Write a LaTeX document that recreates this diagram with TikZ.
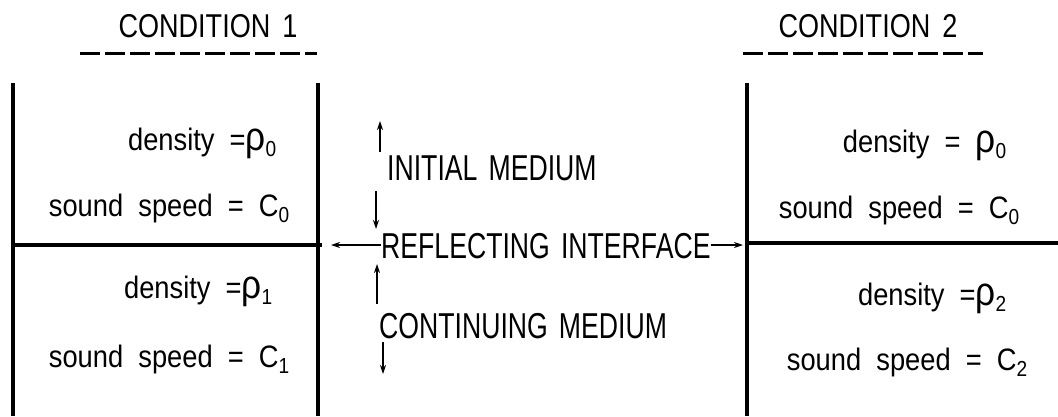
\documentclass[tikz,border=0pt]{standalone}
\usepackage{fontspec}
\setmainfont{Liberation Sans}
\newfontfamily\bodyfont[FakeStretch=0.88,WordSpace=2]{Liberation Sans}
\newfontfamily\headfont[FakeStretch=0.82,WordSpace=1.6]{Liberation Sans}
\newfontfamily\capfont[FakeStretch=0.74,WordSpace=1.5]{Liberation Sans}
\newcommand{\bigrho}{{\fontsize{40}{40}\selectfont ρ}}
\usetikzlibrary{arrows.meta}
\begin{document}
\begin{tikzpicture}[x=1pt,y=-1pt,
  wall/.style={line width=4pt},
  iface/.style={line width=3.5pt},
  uline/.style={line width=3pt, dash pattern=on 20pt off 5pt},
  body/.style={font=\bodyfont\fontsize{31}{33}\selectfont, inner sep=0pt},
  head/.style={font=\headfont\fontsize{33}{35}\selectfont, inner sep=0pt},
  midlbl/.style={font=\capfont\fontsize{36}{38}\selectfont, inner sep=0pt},
  arr/.style={line width=1.3pt, -{Stealth[length=9pt,width=6pt]}}]
\useasboundingbox (0,0) rectangle (1058,416);
% headings
\node[head, anchor=base] (h1) at (208,37) {CONDITION 1};
\node[head, anchor=base] (h2) at (868,37) {CONDITION 2};
\coordinate (u1a) at (80,53); \coordinate (u1b) at (317,53);
\coordinate (u2a) at (743,53); \coordinate (u2b) at (983,53);
\draw[uline] (u1a) -- (u1b);
\draw[uline] (u2a) -- (u2b);
% left box
\coordinate (L1t) at (13,83); \coordinate (L1b) at (13,416);
\coordinate (L2t) at (318,83); \coordinate (L2b) at (318,416);
\coordinate (Lia) at (13,245); \coordinate (Lib) at (322,245);
\draw[wall] (L1t) -- (L1b);
\draw[wall] (L2t) -- (L2b);
\draw[iface] (Lia) -- (Lib);
% right box
\coordinate (R1t) at (747,83); \coordinate (R1b) at (747,416);
\coordinate (Ria) at (745,243); \coordinate (Rib) at (1058,243);
\draw[wall] (R1t) -- (R1b);
\draw[iface] (Ria) -- (Rib);
% left texts
\node[body, anchor=base east] (ld0) at (277,150) {density =\bigrho\textsubscript{0}};
\node[body, anchor=base east] (lc0) at (290,216) {sound speed = C\textsubscript{0}};
\node[body, anchor=base east] (ld1) at (273,298) {density =\bigrho\textsubscript{1}};
\node[body, anchor=base east] (lc1) at (290,367) {sound speed = C\textsubscript{1}};
% right texts
\node[body, anchor=base east] (rd0) at (1007,152) {density = \bigrho\textsubscript{0}};
\node[body, anchor=base east] (rc0) at (1020,218) {sound speed = C\textsubscript{0}};
\node[body, anchor=base east] (rd2) at (1007,305) {density =\bigrho\textsubscript{2}};
\node[body, anchor=base east] (rc2) at (1028,370) {sound speed = C\textsubscript{2}};
% middle labels
\node[midlbl, anchor=base west] (im) at (387,180) {INITIAL MEDIUM};
\node[midlbl, anchor=base west] (ri) at (381,258) {REFLECTING INTERFACE};
\node[midlbl, anchor=base west] (cm) at (379,338) {CONTINUING MEDIUM};
% arrows
\coordinate (a1s) at (380,152); \coordinate (a1e) at (380,121);
\coordinate (a2s) at (376,191); \coordinate (a2e) at (376,229);
\coordinate (a3s) at (377,304); \coordinate (a3e) at (377,264);
\coordinate (a4s) at (383,342); \coordinate (a4e) at (383,374);
\draw[arr] (a1s) -- (a1e);
\draw[arr] (a2s) -- (a2e);
\draw[arr] (a3s) -- (a3e);
\draw[arr] (a4s) -- (a4e);
\coordinate (lw) at (331,245); \coordinate (rw) at (743,245);
\draw[arr] (ri.west |- lw) -- (lw);
\draw[arr] (ri.east |- rw) -- (rw);
\end{tikzpicture}
\end{document}
